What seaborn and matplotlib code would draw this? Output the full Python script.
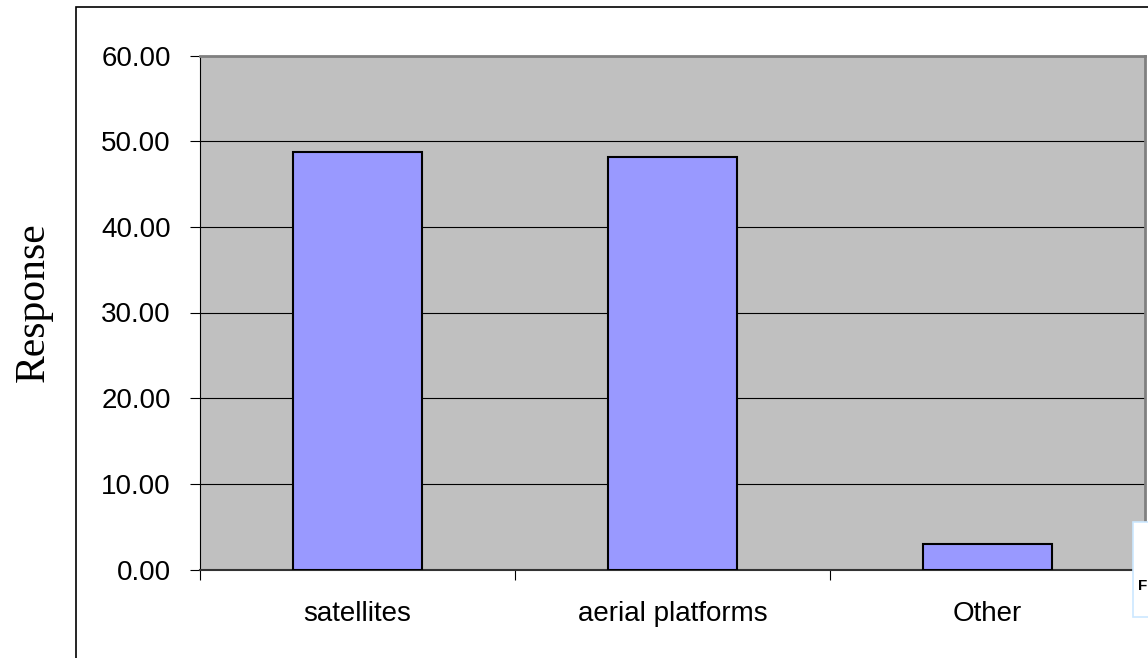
import matplotlib
matplotlib.use("Agg")
import matplotlib.pyplot as plt
import seaborn as sns
from matplotlib.patches import Rectangle
from matplotlib.ticker import FormatStrFormatter

# Survey response shares by platform type
categories = ["satellites", "aerial platforms", "Other"]
responses = [48.7, 48.2, 3.0]
y_ticks = [0, 10, 20, 30, 40, 50, 60]

sns.set_theme(style="white")
plt.rcParams["font.family"] = ["Liberation Sans", "DejaVu Sans"]

W, H = 1148, 658
fig = plt.figure(figsize=(W / 100, H / 100), dpi=100)
fig.patch.set_facecolor("white")

ax = fig.add_axes([200 / W, 88.5 / H, 945 / W, 514 / H])
ax.set_facecolor("#C0C0C0")

sns.barplot(x=categories, y=responses, color="#9999FF", saturation=1,
            edgecolor="black", linewidth=1.5, width=0.41, ax=ax, zorder=3)

ax.set_xlim(-0.5, 2.5)
ax.set_ylim(0, 60)
ax.set_yticks(y_ticks)
ax.yaxis.set_major_formatter(FormatStrFormatter("%.2f"))
ax.yaxis.grid(True, color="black", linewidth=0.8)
ax.xaxis.grid(False)
ax.set_axisbelow(True)
ax.set_xlabel("")
ax.set_ylabel("")

# category boundaries carry the tick marks, labels sit between them
ax.set_xticks([-0.5, 0.5, 1.5, 2.5], minor=True)
ax.tick_params(axis="x", which="major", length=0, pad=23, labelsize=20,
               bottom=True, labelcolor="black")
ax.tick_params(axis="x", which="minor", length=7, width=0.8, color="black",
               direction="out", bottom=True)
ax.tick_params(axis="y", which="major", length=7, width=0.8, color="black",
               direction="out", left=True, pad=14, labelsize=20,
               labelcolor="black")

ax.spines["left"].set_color("black")
ax.spines["left"].set_linewidth(0.8)
ax.spines["bottom"].set_color("#333333")
ax.spines["bottom"].set_linewidth(1.5)
for side in ("top", "right"):
    ax.spines[side].set_color("#808080")
    ax.spines[side].set_linewidth(2)

fig.text(34 / W, 1 - 302 / H, "Response", rotation=90, fontsize=30,
         family=["Liberation Serif"], ha="center", va="center", color="black")

# outer chart frame
fig.add_artist(Rectangle((76.5 / W, -0.5), 2.0, 1.5 - 6.5 / H,
                         transform=fig.transFigure, fill=False,
                         edgecolor="black", linewidth=1.2, zorder=1))

# partially visible legend box at the lower right
fig.add_artist(Rectangle((1132.5 / W, 1 - 617 / H), 0.1, (617 - 522) / H,
                         transform=fig.transFigure, facecolor="white",
                         edgecolor="#CCE8FF", linewidth=1.2, zorder=10))
fig.text(1138 / W, 1 - 586 / H, "F", fontsize=11, fontweight="bold",
         color="black", ha="left", va="center", zorder=11)

fig.savefig("out.png", dpi=100)
